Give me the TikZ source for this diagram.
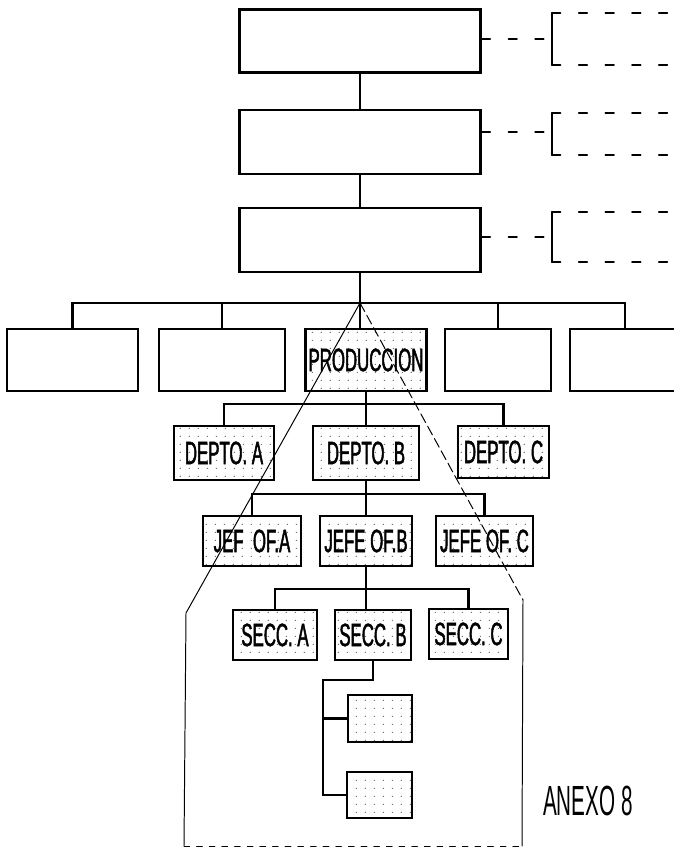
\documentclass[tikz,border=0pt]{standalone}
\usepackage{fontspec}
\newfontfamily\narrowsans[FakeStretch=0.52,FakeBold=1.4]{Liberation Sans}
\newfontfamily\notesans[FakeStretch=0.49]{Liberation Sans}
\usetikzlibrary{patterns.meta}
\tikzdeclarepattern{name=sparsedots,type=uncolored,
  bounding box={(0,0) and (2.2mm,2mm)},tile size={(2.2mm,2mm)},
  code={\fill (1.1mm,1mm) circle (0.18mm);}}

\begin{document}
\begin{tikzpicture}[x=0.25mm,y=0.25mm,line cap=round,
  font=\narrowsans\fontsize{23pt}{25pt}\selectfont,
  orgbox/.style={draw,line width=1.8pt,inner sep=0pt},
  dotbox/.style={orgbox,pattern={sparsedots},pattern color=black!60},
  link/.style={line width=1.5pt},
  gap/.style={line width=1.3pt,dash pattern=on 6pt off 13pt},
  funnel/.style={line width=0.7pt}]
\useasboundingbox (0,0) rectangle (673,848);
\node[orgbox,minimum width=60.25mm,minimum height=15.75mm] (top1) at (360,807) {};
\node[orgbox,minimum width=60.25mm,minimum height=16mm] (top2) at (360,706) {};
\node[orgbox,minimum width=60.25mm,minimum height=16mm] (top3) at (360,608) {};
\draw[link] (top1) -- (top2);
\draw[link] (top2) -- (top3);
\foreach \n/\t/\m/\b in {1/835/809/783,2/735/716/693,3/636/611/586}{
  \coordinate (mid\n) at (552,\m);
  \draw[link] (552,\t) -- (552,\b);
  \draw[gap] (552,\t) -- (673,\t);
  \draw[gap] (552,\b) -- (673,\b);
  \draw[gap] (top\n.east |- mid\n) -- (mid\n);
}
\node[orgbox,minimum width=32.75mm,minimum height=15.5mm] (l1) at (72.5,488) {};
\node[orgbox,minimum width=31.5mm,minimum height=15.5mm] (l2) at (222,488) {};
\node[dotbox,minimum width=30.25mm,minimum height=15.5mm] (prod) at (366,488) {PRODUCCION};
\node[orgbox,minimum width=26.5mm,minimum height=15.5mm] (r1) at (498,488) {};
\node[orgbox,minimum width=27.5mm,minimum height=15.5mm] (r2) at (625,488) {};
\coordinate (hub) at (360,545);
\draw[link] (top3.south) -- (hub);
\draw[link] (l1.north) |- (hub) -| (r2.north);
\draw[link] (l2.north) |- (hub);
\draw[link] (r1.north) |- (hub);
\draw[link] (hub) -- (hub |- prod.north);
\node[dotbox,minimum width=25mm,minimum height=13.5mm] (da) at (224,395) {DEPTO. A};
\node[dotbox,minimum width=26.5mm,minimum height=13.5mm] (db) at (366,395) {DEPTO. B};
\node[dotbox,minimum width=22.75mm,minimum height=13mm] (dc) at (503.5,396) {DEPTO. C};
\coordinate (dbus) at (366,444);
\draw[link] (prod.south) -- (db.north);
\draw[link] (da.north) |- (dbus) -| (dc.north);
\node[dotbox,minimum width=24.5mm,minimum height=12.5mm] (ja) at (252,307) {JEF\ \ OF.A};
\node[dotbox,minimum width=23mm,minimum height=12.5mm] (jb) at (366,307) {JEFE OF.B};
\node[dotbox,minimum width=24.25mm,minimum height=12.5mm] (jc) at (484.5,307) {JEFE OF. C};
\coordinate (jbus) at (366,354);
\draw[link] (db.south) -- (jb.north);
\draw[link] (ja.north) |- (jbus) -| (jc.north);
\node[dotbox,minimum width=21mm,minimum height=12.5mm] (sa) at (275,213) {SECC. A};
\node[dotbox,minimum width=19mm,minimum height=12.5mm] (sb) at (373,213) {SECC. B};
\node[dotbox,minimum width=19.75mm,minimum height=12.5mm] (sc) at (468.5,214) {SECC. C};
\coordinate (sbus) at (366,259);
\draw[link] (jb.south) -- (jb.south |- sb.north);
\draw[link] (sa.north) |- (sbus) -| (sc.north);
\node[dotbox,minimum width=16mm,minimum height=11.75mm] (s1) at (380,129.5) {};
\node[dotbox,minimum width=16.25mm,minimum height=11.5mm] (s2) at (379.5,53) {};
\coordinate (sturn) at (323,168);
\draw[link] (sb.south) |- (sturn) |- (s1.west);
\draw[link] (sturn) |- (s2.west);
\coordinate (fl) at (186,235);
\coordinate (fb) at (184,2);
\coordinate (fr) at (523,248);
\coordinate (fc) at (522,2);
\draw[funnel] (hub) -- (fl) -- (fb);
\draw[funnel,dash pattern=on 7pt off 3pt] (hub) -- (fr);
\draw[funnel] (fr) -- (fc);
\draw[funnel,dash pattern=on 4pt off 5pt] (fb) -- (fc);
\node[font=\notesans\fontsize{30pt}{32pt}\selectfont] (anexo) at (588,47) {ANEXO 8};
\end{tikzpicture}
\end{document}
